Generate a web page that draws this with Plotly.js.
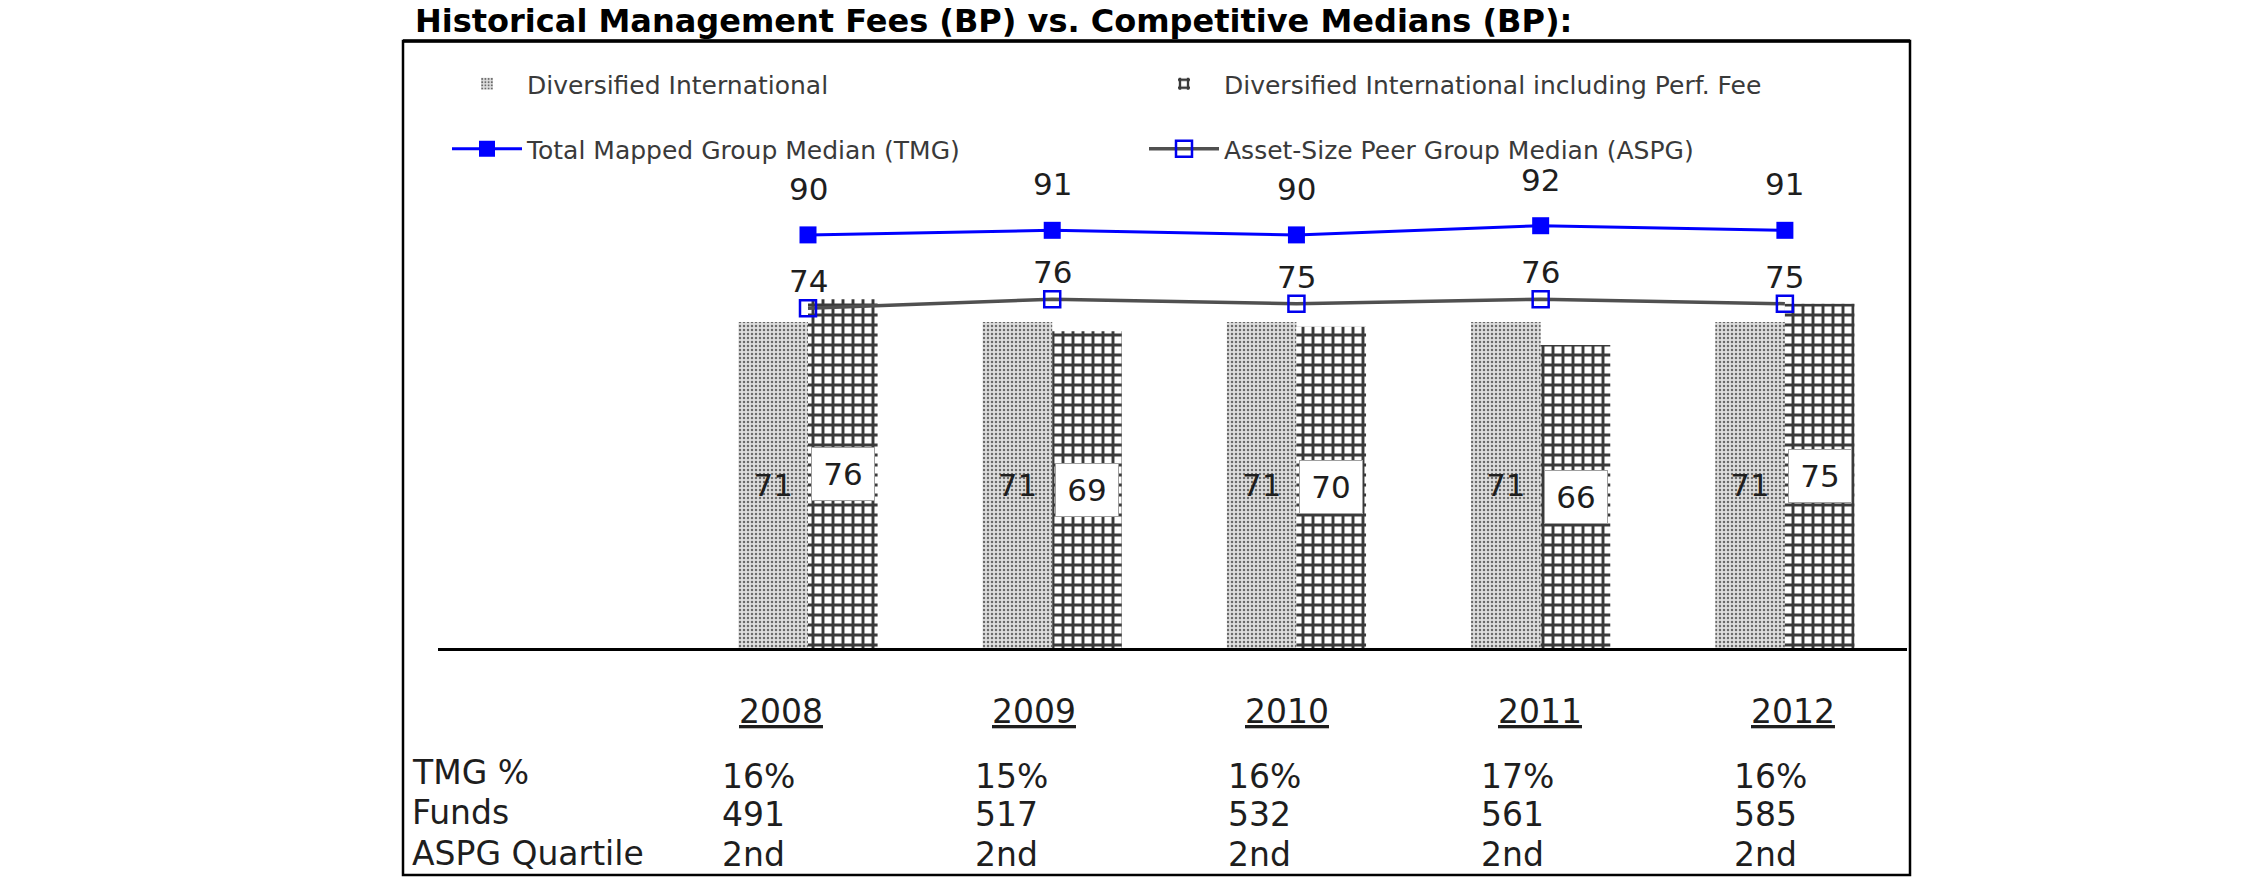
<!DOCTYPE html>
<html>
<head>
<meta charset="utf-8">
<script src="https://cdn.plot.ly/plotly-3.0.1.min.js"></script>
<style>html,body{margin:0;padding:0;background:#ffffff;}</style>
</head>
<body>
<div id="chart" style="width:2250px;height:895px;"></div>
<script>
// ---------- data ----------
const years = ['2008', '2009', '2010', '2011', '2012'];
const divIntl = [71, 71, 71, 71, 71];
const divIntlPerf = [76, 69, 70, 66, 75];
const tmgMedian = [90, 91, 90, 92, 91];
const aspgMedian = [74, 76, 75, 76, 75];
const seriesNames = [
  'Diversified International',
  'Diversified International including Perf. Fee',
  'Total Mapped Group Median (TMG)',
  'Asset-Size Peer Group Median (ASPG)'
];
const rowLabels = ['TMG %', 'Funds', 'ASPG Quartile'];
const tmgPct = ['16%', '15%', '16%', '17%', '16%'];
const funds = ['491', '517', '532', '561', '585'];
const aspgQuartile = ['2nd', '2nd', '2nd', '2nd', '2nd'];
const titleText = 'Historical Management Fees (BP) vs. Competitive Medians (BP):';

// ---------- layout geometry ----------
const W = 2250, H = 895;
const M = {l: 438, r: 343, t: 100, b: 247};
const plotW = W - M.l - M.r;
const plotH = H - M.t - M.b;
const pxPerUnit = 4.59;
const yTop = plotH / pxPerUnit;
const px = v => (v - M.l) / plotW;           // pixel x -> paper
const py = v => (H - M.b - v) / plotH;       // pixel y -> paper
const FONT = 'DejaVu Sans, Verdana, sans-serif';
const TXT = '#1e1e1e';

const traces = [
  {
    type: 'bar', name: seriesNames[0], x: years, y: divIntl, legend: 'legend',
    marker: {color: '#d6d6d6', line: {width: 0},
      pattern: {shape: '.', fgcolor: '#6a6a6a', bgcolor: '#dedede', size: 4, solidity: 0.3}},
    texttemplate: '%{y}', textposition: 'inside', insidetextanchor: 'middle',
    textangle: 0, constraintext: 'none',
    textfont: {family: FONT, size: 31, color: TXT},
    insidetextfont: {family: FONT, size: 31, color: TXT},
    hoverinfo: 'skip'
  },
  {
    type: 'bar', name: seriesNames[1], x: years, y: divIntlPerf, legend: 'legend',
    marker: {color: '#ffffff', line: {width: 0},
      pattern: {shape: '+', fgcolor: '#3a3a3a', bgcolor: '#ffffff', size: 10, solidity: 0.5}},
    textposition: 'none', hoverinfo: 'skip'
  },
  {
    type: 'scatter', mode: 'lines+markers', name: seriesNames[2], x: years, y: tmgMedian,
    legend: 'legend2',
    line: {color: '#0000ff', width: 3},
    marker: {symbol: 'square', size: 17, color: '#0000ff'},
    hoverinfo: 'skip'
  },
  {
    type: 'scatter', mode: 'lines+markers', name: seriesNames[3], x: years, y: aspgMedian,
    legend: 'legend2',
    line: {color: '#505050', width: 3.5},
    marker: {symbol: 'square-open', size: 16, color: '#0000ee', line: {width: 2.5, color: '#0000ee'}},
    hoverinfo: 'skip'
  }
];

const annotations = [];
years.forEach((yr, i) => {
  // category axis: position by category index
  annotations.push({xref: 'x', yref: 'y', x: i, y: tmgMedian[i], text: String(tmgMedian[i]),
    showarrow: false, yshift: 46, font: {family: FONT, size: 31, color: TXT}});
  annotations.push({xref: 'x', yref: 'y', x: i, y: aspgMedian[i], text: String(aspgMedian[i]),
    showarrow: false, yshift: 27, font: {family: FONT, size: 31, color: TXT}});
  annotations.push({xref: 'x', yref: 'y', x: i, y: divIntlPerf[i] / 2, text: String(divIntlPerf[i]),
    showarrow: false, xshift: 35, bgcolor: '#ffffff', bordercolor: '#a0a0a0', borderwidth: 1,
    width: 60, height: 50, font: {family: FONT, size: 31, color: TXT}});
  // table columns
  annotations.push({xref: 'x2', yref: 'paper', x: i, y: py(711), text: yr, showarrow: false,
    xanchor: 'center', yanchor: 'middle',
    font: {family: FONT, size: 33, color: TXT, lineposition: 'under'}});
  [tmgPct, funds, aspgQuartile].forEach((row, r) => {
    annotations.push({xref: 'x2', yref: 'paper', x: i, y: py([776, 814, 854][r]), text: row[i],
      showarrow: false, xanchor: 'left', yanchor: 'middle', xshift: -61,
      font: {family: FONT, size: 33, color: TXT}});
  });
});
rowLabels.forEach((lab, r) => {
  annotations.push({xref: 'paper', yref: 'paper', x: px(410), y: py([772, 812, 853][r]), text: lab,
    showarrow: false, xanchor: 'left', yanchor: 'middle',
    font: {family: FONT, size: 33, color: TXT}});
});

const legendCommon = {
  orientation: 'h', xanchor: 'left', yanchor: 'middle', x: px(447),
  entrywidth: 612, entrywidthmode: 'pixels', itemwidth: 70,
  font: {family: FONT, size: 25, color: '#3a3a3a'},
  bgcolor: 'rgba(0,0,0,0)', borderwidth: 0, traceorder: 'normal',
  itemclick: false, itemdoubleclick: false
};

const layout = {
  width: W, height: H,
  margin: {l: M.l, r: M.r, t: M.t, b: M.b, autoexpand: false},
  paper_bgcolor: '#ffffff', plot_bgcolor: '#ffffff',
  showlegend: true,
  title: {
    text: titleText, x: 415 / W, xanchor: 'left', xref: 'container',
    y: 1 - 21 / H, yanchor: 'middle', yref: 'container',
    font: {family: FONT, size: 32, color: '#000000', weight: 'bold'}
  },
  barmode: 'group', bargap: 0.43, bargroupgap: 0,
  xaxis: {
    type: 'category', categoryorder: 'array', categoryarray: years,
    range: [-1.515, 4.5], showticklabels: false, ticks: '', showgrid: false,
    showline: true, linecolor: '#000000', linewidth: 3, zeroline: false, fixedrange: true
  },
  xaxis2: {
    overlaying: 'x', anchor: 'y', range: [-1.356, 4.451], visible: false, fixedrange: true
  },
  yaxis: {range: [0, yTop], visible: false, showgrid: false, zeroline: false, fixedrange: true},
  legend: Object.assign({}, legendCommon, {y: py(84)}),
  legend2: Object.assign({}, legendCommon, {y: py(149)}),
  shapes: [
    {type: 'rect', xref: 'paper', yref: 'paper', x0: px(403), x1: px(1910), y0: py(875), y1: py(41),
      line: {color: '#000000', width: 2.5}, fillcolor: 'rgba(0,0,0,0)', layer: 'below'},
    {type: 'line', xref: 'paper', yref: 'paper', x0: px(403), x1: px(1910), y0: py(41), y1: py(41),
      line: {color: '#000000', width: 3.5}}
  ],
  annotations: annotations
};

Plotly.newPlot('chart', traces, layout, {displayModeBar: false, staticPlot: true});
</script>
</body>
</html>
